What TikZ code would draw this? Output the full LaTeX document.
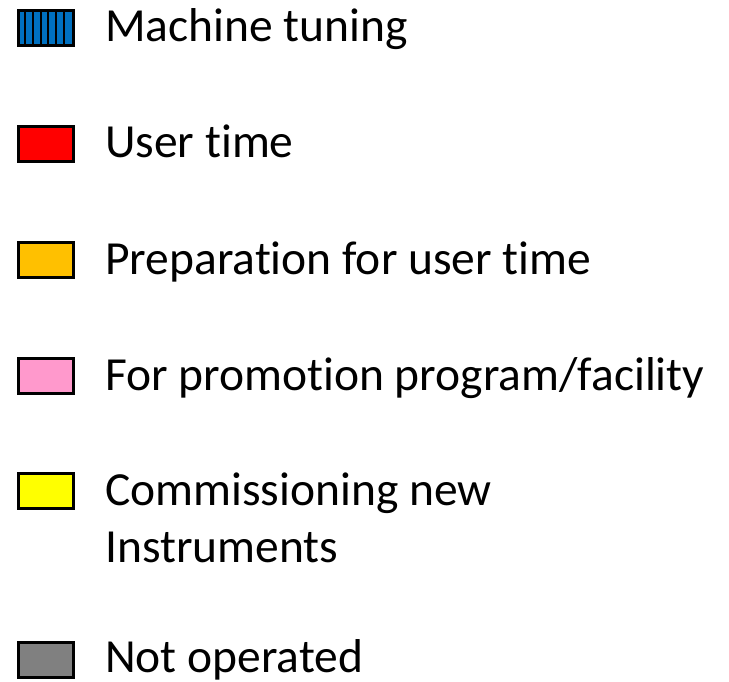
\documentclass[tikz,border=0pt]{standalone}
\usepackage{fontspec}
\setmainfont[Ligatures=NoCommon]{Carlito}
\usetikzlibrary{calc}
\definecolor{tuneblue}{RGB}{0,112,192}
\definecolor{userred}{RGB}{255,0,0}
\definecolor{prepor}{RGB}{255,192,0}
\definecolor{promopink}{RGB}{255,153,204}
\definecolor{commyel}{RGB}{255,255,0}
\definecolor{notgray}{RGB}{128,128,128}
\begin{document}
\begin{tikzpicture}[x=1pt,y=-1pt,
  swatch/.style={draw=black,line width=3pt,minimum width=55pt,minimum height=35pt,inner sep=0pt},
  lab/.style={anchor=base west,font=\fontsize{47.5}{57}\selectfont,inner sep=0pt,align=left}]
\useasboundingbox (0,0) rectangle (729,682);
\node[swatch,fill=tuneblue] (s1) at (46,28) {};
\foreach \i in {1,...,6} {
  \fill[black] ($(s1.west)+(\i*55/7-1,-17.5)$) rectangle ++(2,35);
}
\node[swatch,fill=userred] (s2) at (46,144) {};
\node[swatch,fill=prepor] (s3) at (46,260) {};
\node[swatch,fill=promopink] (s4) at (46,376) {};
\node[swatch,fill=commyel] (s5) at (46,491) {};
\node[swatch,fill=notgray] (s6) at (46,660) {};
\node[lab] (t1) at (105,42) {Machine tuning};
\node[lab] (t2) at (105,158) {User time};
\node[lab] (t3) at (105,274) {Preparation for user time};
\node[lab] (t4) at (105,390) {For promotion program/facility};
\node[lab] (t5) at (105,505) {Commissioning new};
\node[lab] (t5b) at (105,562) {Instruments};
\node[lab] (t6) at (105,672) {Not operated};
\end{tikzpicture}
\end{document}
